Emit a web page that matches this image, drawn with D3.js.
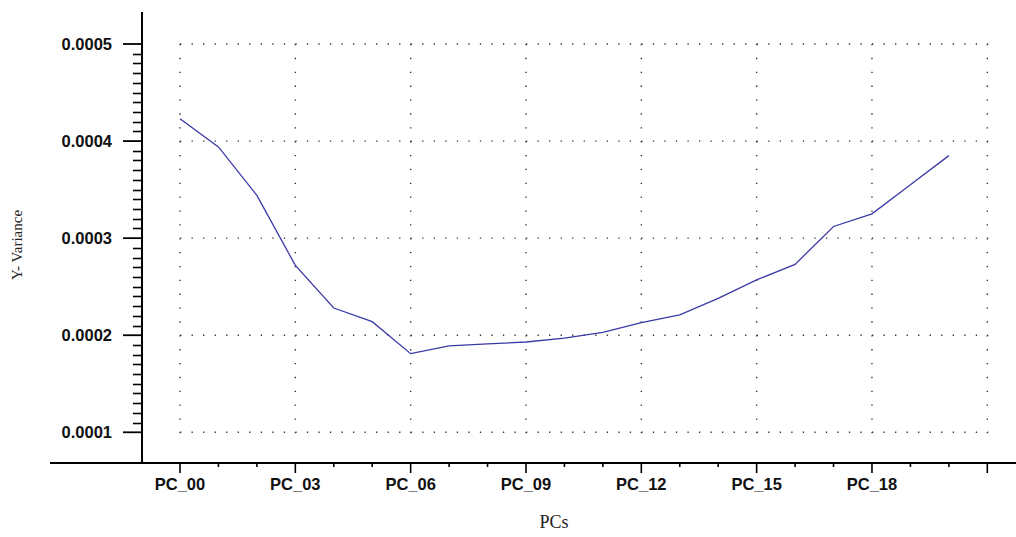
<!DOCTYPE html>
<html>
<head>
<meta charset="utf-8">
<script src="https://cdn.jsdelivr.net/npm/d3@7"></script>
<style>
  html, body { margin: 0; padding: 0; background: #fff; }
  svg { display: block; }
</style>
</head>
<body>
<svg id="chart" width="1016" height="537"></svg>
<script>
// ---- data ----
const categories = ["PC_00","PC_01","PC_02","PC_03","PC_04","PC_05","PC_06","PC_07","PC_08","PC_09","PC_10",
                    "PC_11","PC_12","PC_13","PC_14","PC_15","PC_16","PC_17","PC_18","PC_19","PC_20"];
const variance = [0.000423, 0.000394, 0.000344, 0.000272, 0.000228, 0.000214, 0.000181, 0.000189, 0.000191, 0.000193,
                  0.000197, 0.000203, 0.000213, 0.000221, 0.000238, 0.000257, 0.000273, 0.000312, 0.000325, 0.000355, 0.000385];
const xTickLabels = ["PC_00","PC_03","PC_06","PC_09","PC_12","PC_15","PC_18",""];
const xMajorIdx = [0,3,6,9,12,15,18,21];
const yMajor = [0.0001, 0.0002, 0.0003, 0.0004, 0.0005];
const yTickLabels = ["0.0001","0.0002","0.0003","0.0004","0.0005"];
const xTitle = "PCs";
const yTitle = "Y- Variance";

// ---- layout ----
const svg = d3.select("#chart");
const x = d3.scaleLinear().domain([0, 21]).range([180, 987.3]);
const y = d3.scaleLinear().domain([0.0001, 0.0005]).range([432.3, 44]);
const axisY = 463, axisX = 142;

// grid
const grid = svg.append("g").attr("stroke", "#333").attr("stroke-width", 1.4);
grid.selectAll("line.h").data(yMajor).join("line")
  .attr("x1", x(0)).attr("x2", x(21) + 1)
  .attr("y1", d => y(d)).attr("y2", d => y(d))
  .attr("stroke-dasharray", `1.3 ${(x(3) - x(0)) / 10 - 1.3}`);
grid.selectAll("line.v").data(xMajorIdx).join("line")
  .attr("x1", d => x(d)).attr("x2", d => x(d))
  .attr("y1", y(0.0005)).attr("y2", y(0.0001) + 1)
  .attr("stroke-dasharray", `1.3 ${(y(0.0001) - y(0.0002)) / 7 - 1.3}`);

// y axis line
const yTop = 12;
svg.append("line").attr("x1", axisX).attr("x2", axisX).attr("y1", yTop).attr("y2", axisY)
  .attr("stroke", "#000").attr("stroke-width", 2);
// y minor ticks
const yMinor = d3.range(10, 51).map(i => i * 0.00001).filter(v => !yMajor.some(m => Math.abs(m - v) < 1e-9));
svg.append("g").selectAll("line").data(yMinor).join("line")
  .attr("x1", axisX - 9).attr("x2", axisX)
  .attr("y1", d => Math.round(y(d)) + 0.5).attr("y2", d => Math.round(y(d)) + 0.5)
  .attr("stroke", "#000").attr("stroke-width", 1.6);
// y major ticks
svg.append("g").selectAll("line").data(yMajor).join("line")
  .attr("x1", axisX - 19).attr("x2", axisX)
  .attr("y1", d => y(d)).attr("y2", d => y(d))
  .attr("stroke", "#000").attr("stroke-width", 1.8);
svg.append("g").selectAll("text").data(yMajor).join("text")
  .attr("x", 112).attr("y", d => y(d)).attr("dy", "0.36em")
  .attr("text-anchor", "end")
  .attr("font-family", "Liberation Sans, Arial, sans-serif")
  .attr("font-weight", "bold").attr("font-size", 16.5).attr("fill", "#111")
  .text((d, i) => yTickLabels[i]);

// x axis line
svg.append("line").attr("x1", 50).attr("x2", 1016).attr("y1", axisY).attr("y2", axisY)
  .attr("stroke", "#000").attr("stroke-width", 2);
// x minor ticks
svg.append("g").selectAll("line").data(d3.range(0, 22).filter(i => i % 3 !== 0)).join("line")
  .attr("x1", d => x(d)).attr("x2", d => x(d))
  .attr("y1", axisY).attr("y2", axisY + 4)
  .attr("stroke", "#000").attr("stroke-width", 1.6);
// x major ticks
svg.append("g").selectAll("line").data(xMajorIdx).join("line")
  .attr("x1", d => x(d)).attr("x2", d => x(d))
  .attr("y1", axisY).attr("y2", axisY + 10)
  .attr("stroke", "#000").attr("stroke-width", 1.6);
svg.append("g").selectAll("text").data(xMajorIdx).join("text")
  .attr("x", d => x(d)).attr("y", 490)
  .attr("text-anchor", "middle")
  .attr("font-family", "Liberation Sans, Arial, sans-serif")
  .attr("font-weight", "bold").attr("font-size", 16.5).attr("fill", "#111")
  .text((d, i) => xTickLabels[i]);

// titles
svg.append("text").attr("x", 554).attr("y", 528).attr("text-anchor", "middle")
  .attr("font-family", "Liberation Serif, Times New Roman, serif").attr("font-size", 18).attr("fill", "#222")
  .text(xTitle);
svg.append("text").attr("transform", "translate(22,245) rotate(-90)").attr("text-anchor", "middle")
  .attr("font-family", "Liberation Serif, Times New Roman, serif").attr("font-size", 15).attr("fill", "#222")
  .text(yTitle);

// line
const line = d3.line().x((d, i) => x(i)).y(d => y(d));
svg.append("path").datum(variance).attr("d", line)
  .attr("fill", "none").attr("stroke", "#3a3aa6").attr("stroke-width", 1.3);
</script>
</body>
</html>
